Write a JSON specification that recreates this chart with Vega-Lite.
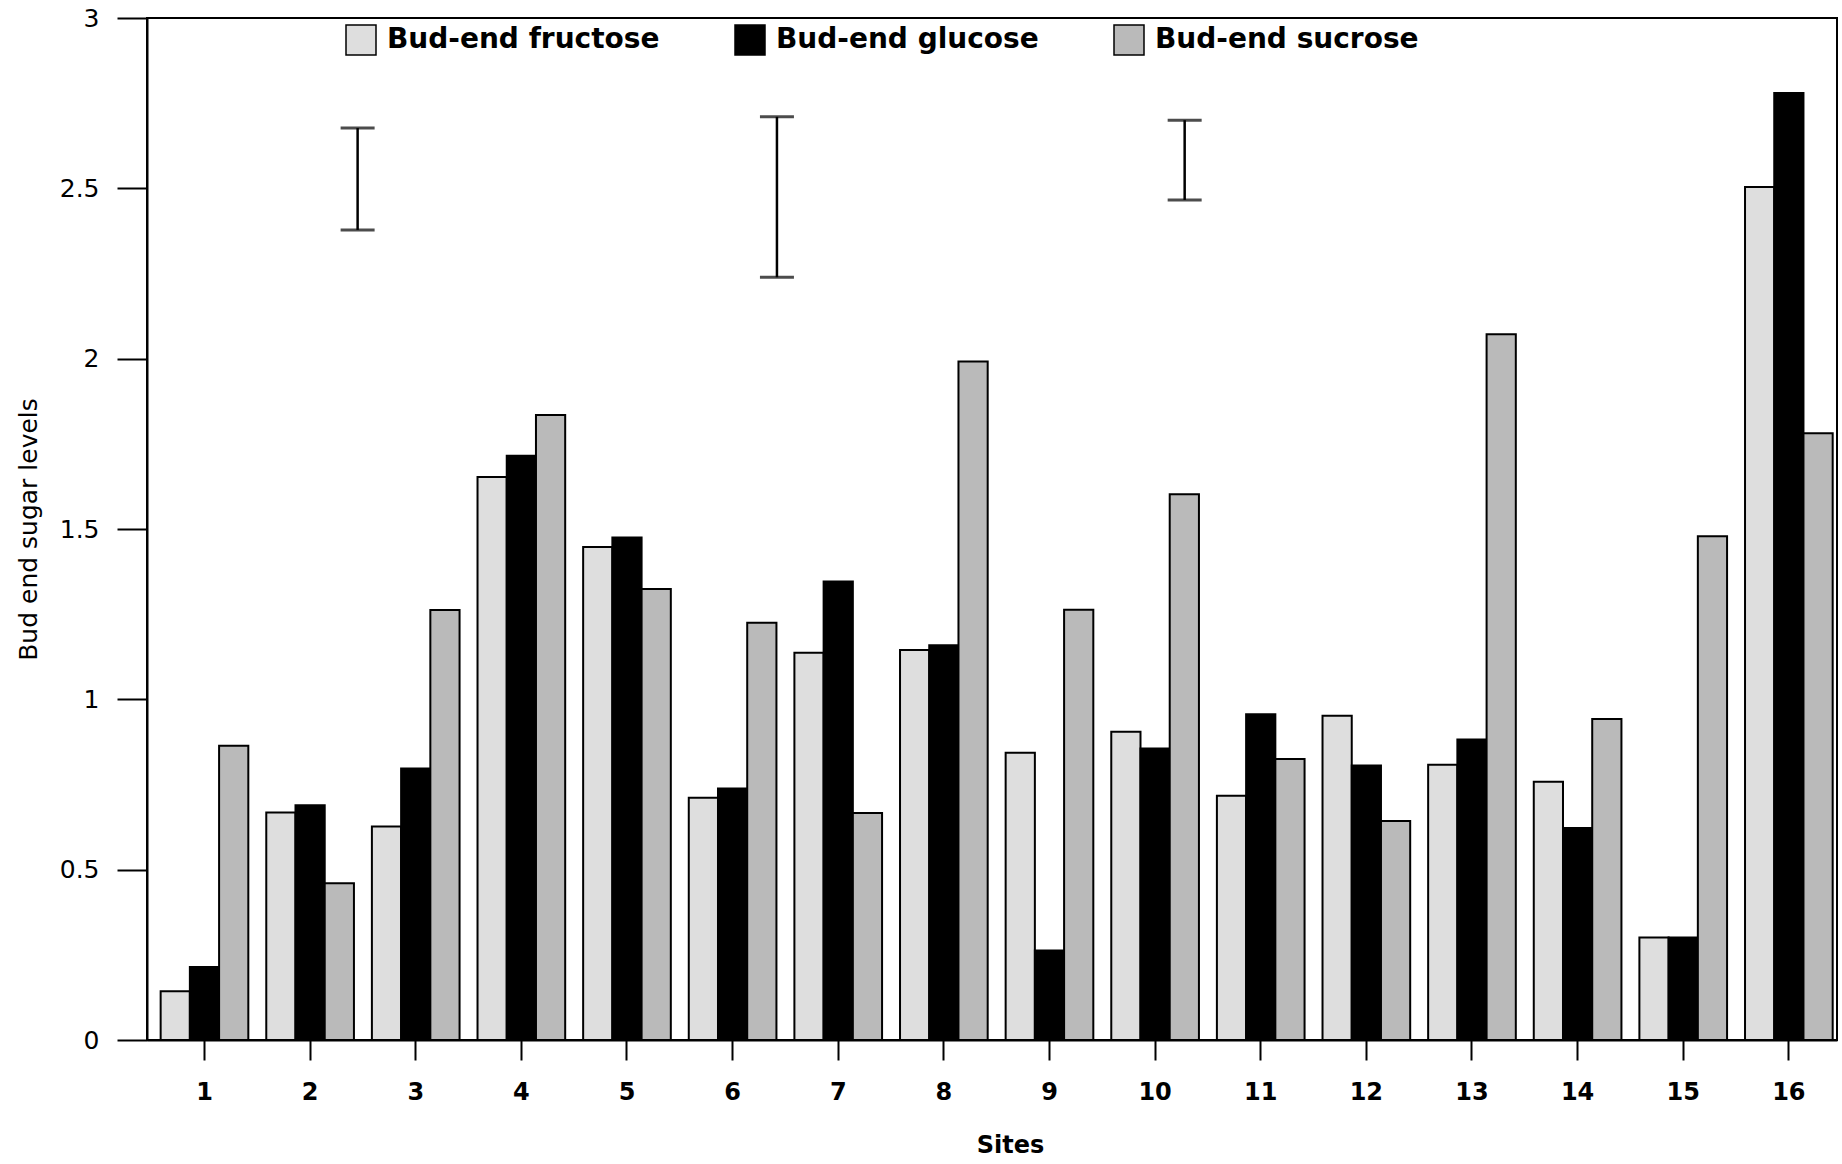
{
  "$schema": "https://vega.github.io/schema/vega-lite/v6.json",
  "width": 1690,
  "height": 1022,
  "autosize": {"type": "none"},
  "padding": {"left": 147, "top": 18, "right": 5, "bottom": 124},
  "background": "white",
  "datasets": {
    "bars": [
      {"site": 1, "sugar": "Bud-end fructose", "value": 0.143},
      {"site": 1, "sugar": "Bud-end glucose", "value": 0.214},
      {"site": 1, "sugar": "Bud-end sucrose", "value": 0.864},
      {"site": 2, "sugar": "Bud-end fructose", "value": 0.668},
      {"site": 2, "sugar": "Bud-end glucose", "value": 0.689},
      {"site": 2, "sugar": "Bud-end sucrose", "value": 0.46},
      {"site": 3, "sugar": "Bud-end fructose", "value": 0.627},
      {"site": 3, "sugar": "Bud-end glucose", "value": 0.797},
      {"site": 3, "sugar": "Bud-end sucrose", "value": 1.262},
      {"site": 4, "sugar": "Bud-end fructose", "value": 1.653},
      {"site": 4, "sugar": "Bud-end glucose", "value": 1.715},
      {"site": 4, "sugar": "Bud-end sucrose", "value": 1.835},
      {"site": 5, "sugar": "Bud-end fructose", "value": 1.447},
      {"site": 5, "sugar": "Bud-end glucose", "value": 1.475},
      {"site": 5, "sugar": "Bud-end sucrose", "value": 1.324},
      {"site": 6, "sugar": "Bud-end fructose", "value": 0.711},
      {"site": 6, "sugar": "Bud-end glucose", "value": 0.738},
      {"site": 6, "sugar": "Bud-end sucrose", "value": 1.225},
      {"site": 7, "sugar": "Bud-end fructose", "value": 1.137},
      {"site": 7, "sugar": "Bud-end glucose", "value": 1.346},
      {"site": 7, "sugar": "Bud-end sucrose", "value": 0.666},
      {"site": 8, "sugar": "Bud-end fructose", "value": 1.145},
      {"site": 8, "sugar": "Bud-end glucose", "value": 1.159},
      {"site": 8, "sugar": "Bud-end sucrose", "value": 1.992},
      {"site": 9, "sugar": "Bud-end fructose", "value": 0.843},
      {"site": 9, "sugar": "Bud-end glucose", "value": 0.263},
      {"site": 9, "sugar": "Bud-end sucrose", "value": 1.263},
      {"site": 10, "sugar": "Bud-end fructose", "value": 0.905},
      {"site": 10, "sugar": "Bud-end glucose", "value": 0.856},
      {"site": 10, "sugar": "Bud-end sucrose", "value": 1.602},
      {"site": 11, "sugar": "Bud-end fructose", "value": 0.717},
      {"site": 11, "sugar": "Bud-end glucose", "value": 0.956},
      {"site": 11, "sugar": "Bud-end sucrose", "value": 0.825},
      {"site": 12, "sugar": "Bud-end fructose", "value": 0.952},
      {"site": 12, "sugar": "Bud-end glucose", "value": 0.806},
      {"site": 12, "sugar": "Bud-end sucrose", "value": 0.643},
      {"site": 13, "sugar": "Bud-end fructose", "value": 0.808},
      {"site": 13, "sugar": "Bud-end glucose", "value": 0.882},
      {"site": 13, "sugar": "Bud-end sucrose", "value": 2.072},
      {"site": 14, "sugar": "Bud-end fructose", "value": 0.758},
      {"site": 14, "sugar": "Bud-end glucose", "value": 0.622},
      {"site": 14, "sugar": "Bud-end sucrose", "value": 0.942},
      {"site": 15, "sugar": "Bud-end fructose", "value": 0.301},
      {"site": 15, "sugar": "Bud-end glucose", "value": 0.301},
      {"site": 15, "sugar": "Bud-end sucrose", "value": 1.479},
      {"site": 16, "sugar": "Bud-end fructose", "value": 2.504},
      {"site": 16, "sugar": "Bud-end glucose", "value": 2.78},
      {"site": 16, "sugar": "Bud-end sucrose", "value": 1.781}
    ],
    "lsd": [
      {"bar": "fructose", "position": 2.45, "low": 2.378, "high": 2.677},
      {"bar": "glucose", "position": 6.42, "low": 2.239, "high": 2.71},
      {"bar": "sucrose", "position": 10.28, "low": 2.466, "high": 2.7}
    ]
  },
  "layer": [
    {
      "data": {"name": "bars"},
      "mark": {"type": "bar", "stroke": "black", "strokeWidth": 2},
      "encoding": {
        "x": {
          "field": "site",
          "type": "ordinal",
          "scale": {"paddingInner": 0.17, "paddingOuter": 0.085, "align": 0.76},
          "axis": {
            "title": "Sites",
            "labelAngle": 0,
            "tickSize": 20,
            "labelPadding": 20,
            "labelFontSize": 24,
            "labelFontWeight": "bold",
            "titleFontSize": 24,
            "titleFontWeight": "bold",
            "titlePadding": 29,
            "titleX": 863
          }
        },
        "xOffset": {
          "field": "sugar",
          "type": "nominal",
          "sort": ["Bud-end fructose", "Bud-end glucose", "Bud-end sucrose"],
          "scale": {"paddingInner": 0, "paddingOuter": 0}
        },
        "y": {
          "field": "value",
          "type": "quantitative",
          "scale": {"domain": [0, 3], "nice": false},
          "axis": {
            "title": "Bud end sugar levels",
            "values": [0, 0.5, 1, 1.5, 2, 2.5, 3],
            "format": "~g",
            "tickSize": 30,
            "labelPadding": 18,
            "labelFontSize": 25,
            "titleFontSize": 25,
            "titleFontWeight": "normal",
            "titlePadding": 18
          }
        },
        "fill": {
          "field": "sugar",
          "type": "nominal",
          "scale": {
            "domain": ["Bud-end fructose", "Bud-end glucose", "Bud-end sucrose"],
            "range": ["#dedede", "#000000", "#bababa"]
          },
          "legend": {
            "title": null,
            "orient": "none",
            "legendX": 198,
            "legendY": 6,
            "direction": "horizontal",
            "symbolType": "square",
            "symbolSize": 900,
            "symbolStrokeColor": "black",
            "symbolStrokeWidth": 1.5,
            "symbolOpacity": 1,
            "labelFont": "DejaVu Sans",
            "labelFontSize": 28,
            "labelFontWeight": "bold",
            "labelColor": "black",
            "labelOffset": 10,
            "labelLimit": 0,
            "columnPadding": 72,
            "padding": 0
          }
        }
      }
    },
    {
      "data": {"name": "lsd"},
      "mark": {"type": "errorbar", "ticks": {"size": 34, "thickness": 3, "color": "black"}, "thickness": 2.5, "color": "black"},
      "encoding": {
        "x": {"field": "position", "type": "quantitative", "scale": {"domain": [0.456, 16.456], "nice": false, "zero": false}, "axis": null},
        "y": {"field": "low", "type": "quantitative", "title": "Bud end sugar levels"},
        "y2": {"field": "high"}
      }
    }
  ],
  "resolve": {"scale": {"x": "independent"}},
  "config": {
    "view": {"stroke": "black", "strokeWidth": 2},
    "axis": {
      "grid": false,
      "domainColor": "black",
      "domainWidth": 2,
      "tickColor": "black",
      "tickWidth": 2,
      "labelColor": "black",
      "titleColor": "black",
      "labelFont": "DejaVu Sans",
      "titleFont": "DejaVu Sans"
    }
  }
}
